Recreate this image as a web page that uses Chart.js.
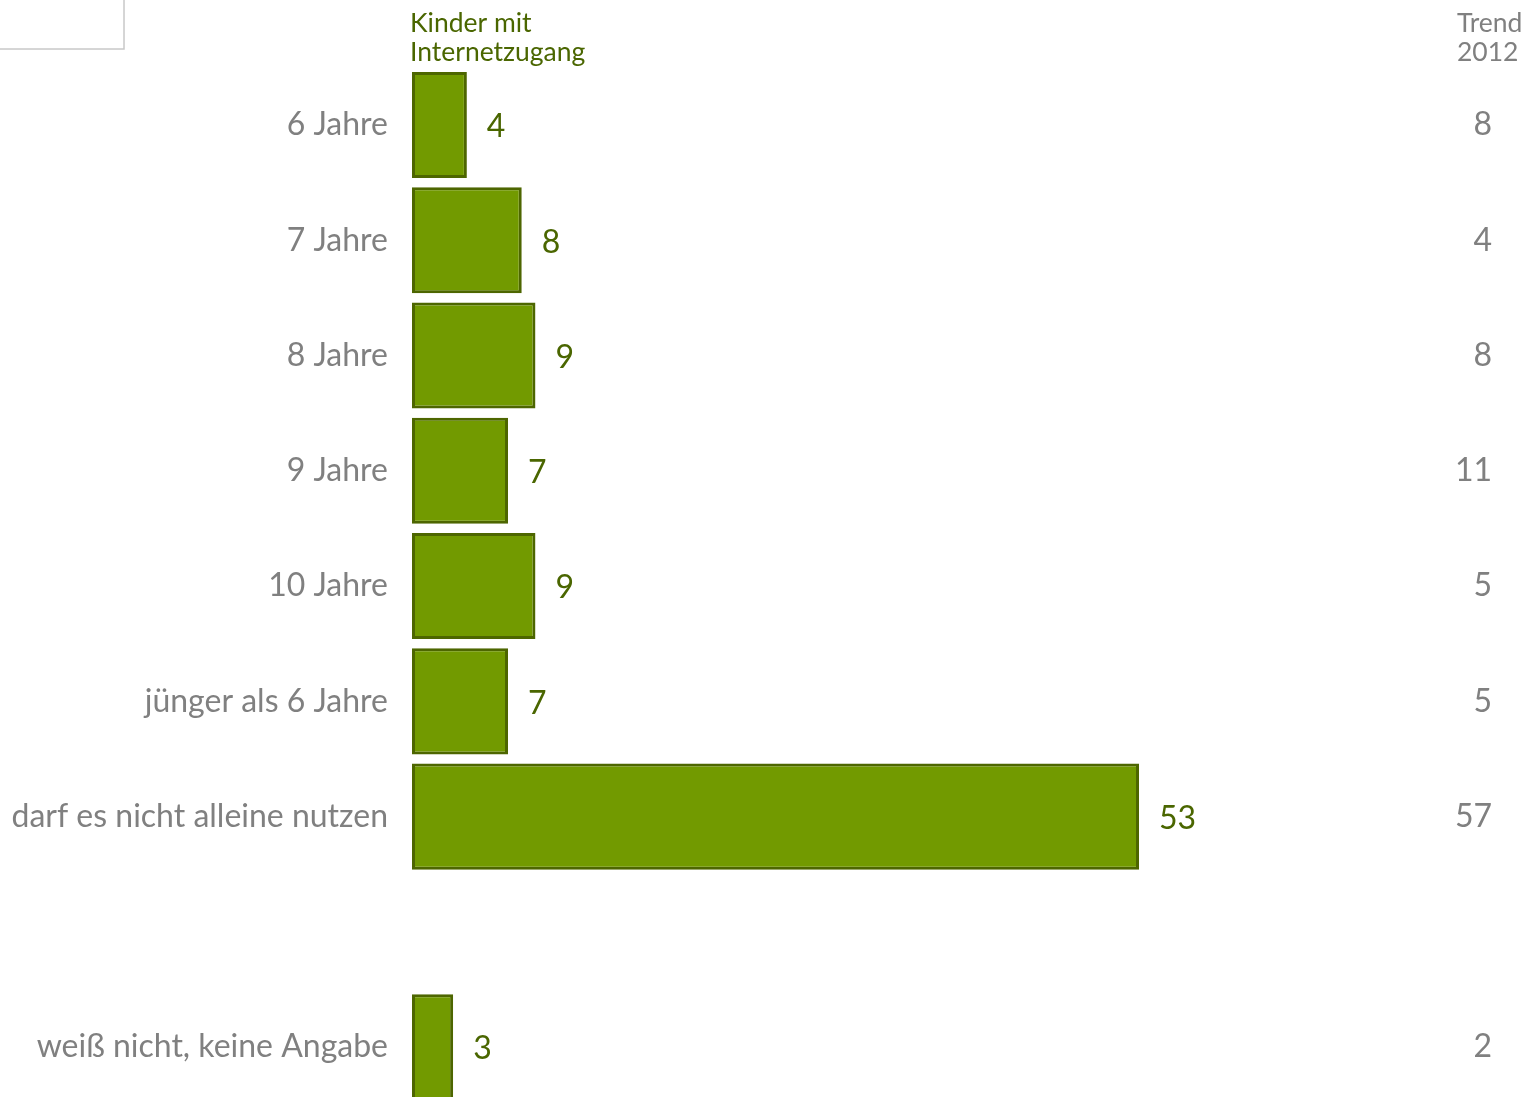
<!DOCTYPE html>
<html>
<head>
<meta charset="utf-8">
<script src="https://cdn.jsdelivr.net/npm/chart.js@4.4.0/dist/chart.umd.min.js"></script>
<style>
html,body{margin:0;padding:0;background:#fff;overflow:hidden;}
#wrap{width:1528px;height:1097px;overflow:hidden;position:relative;}
canvas{display:block;}
</style>
</head>
<body>
<div id="wrap"><canvas id="c" width="1528" height="1140"></canvas></div>
<script>
const categories = ['6 Jahre','7 Jahre','8 Jahre','9 Jahre','10 Jahre','jünger als 6 Jahre','darf es nicht alleine nutzen','','weiß nicht, keine Angabe'];
const values = [4, 8, 9, 7, 9, 7, 53, null, 3];
const trend2012 = [8, 4, 8, 11, 5, 5, 57, null, 2];
const seriesHeader = ['Kinder mit', 'Internetzugang'];
const trendHeader = ['Trend', '2012'];

const FONT = 'Lato, "Open Sans", sans-serif';
const GREEN_TEXT = '#4a6600';
const GRAY = '#808080';

const overlay = {
  id: 'overlay',
  afterDatasetsDraw(chart) {
    const ctx = chart.ctx;
    const y = chart.scales.y;
    const meta = chart.getDatasetMeta(0);
    ctx.save();
    ctx.font = '32px ' + FONT;
    ctx.textBaseline = 'middle';
    ctx.textAlign = 'left';
    ctx.fillStyle = GREEN_TEXT;
    meta.data.forEach((bar, i) => {
      if (values[i] == null) return;
      ctx.fillText(String(values[i]), bar.x + 20, bar.y + 2);
    });
    ctx.fillStyle = GRAY;
    ctx.textAlign = 'right';
    trend2012.forEach((v, i) => {
      if (v == null) return;
      ctx.fillText(String(v), 1492, y.getPixelForValue(i));
    });
    ctx.font = '26.5px ' + FONT;
    ctx.textAlign = 'left';
    ctx.fillStyle = GREEN_TEXT;
    ctx.fillText(seriesHeader[0], 410, 23);
    ctx.fillText(seriesHeader[1], 410, 52);
    ctx.fillStyle = GRAY;
    ctx.fillText(trendHeader[0], 1457, 23);
    ctx.fillText(trendHeader[1], 1457, 52);
    ctx.strokeStyle = '#c8c8c8';
    ctx.lineWidth = 1.5;
    ctx.strokeRect(-2, -2, 126, 51);
    ctx.restore();
  }
};

new Chart(document.getElementById('c'), {
  type: 'bar',
  data: {
    labels: categories,
    datasets: [{
      data: values,
      backgroundColor: '#729a00',
      borderColor: '#4d6600',
      borderWidth: 3,
      borderSkipped: false,
      categoryPercentage: 1,
      barPercentage: 0.92
    }]
  },
  options: {
    indexAxis: 'y',
    responsive: false,
    animation: false,
    layout: { padding: { top: 67.4, bottom: 6, right: 18.6, left: 0 } },
    plugins: { legend: { display: false }, tooltip: { enabled: false } },
    scales: {
      x: { display: false, min: 0, max: 80 },
      y: {
        grid: { display: false },
        border: { display: false },
        ticks: { color: GRAY, font: { family: FONT, size: 32 }, padding: 16 },
        afterFit(scale) { scale.width = 412; }
      }
    }
  },
  plugins: [overlay]
});
</script>
</body>
</html>
